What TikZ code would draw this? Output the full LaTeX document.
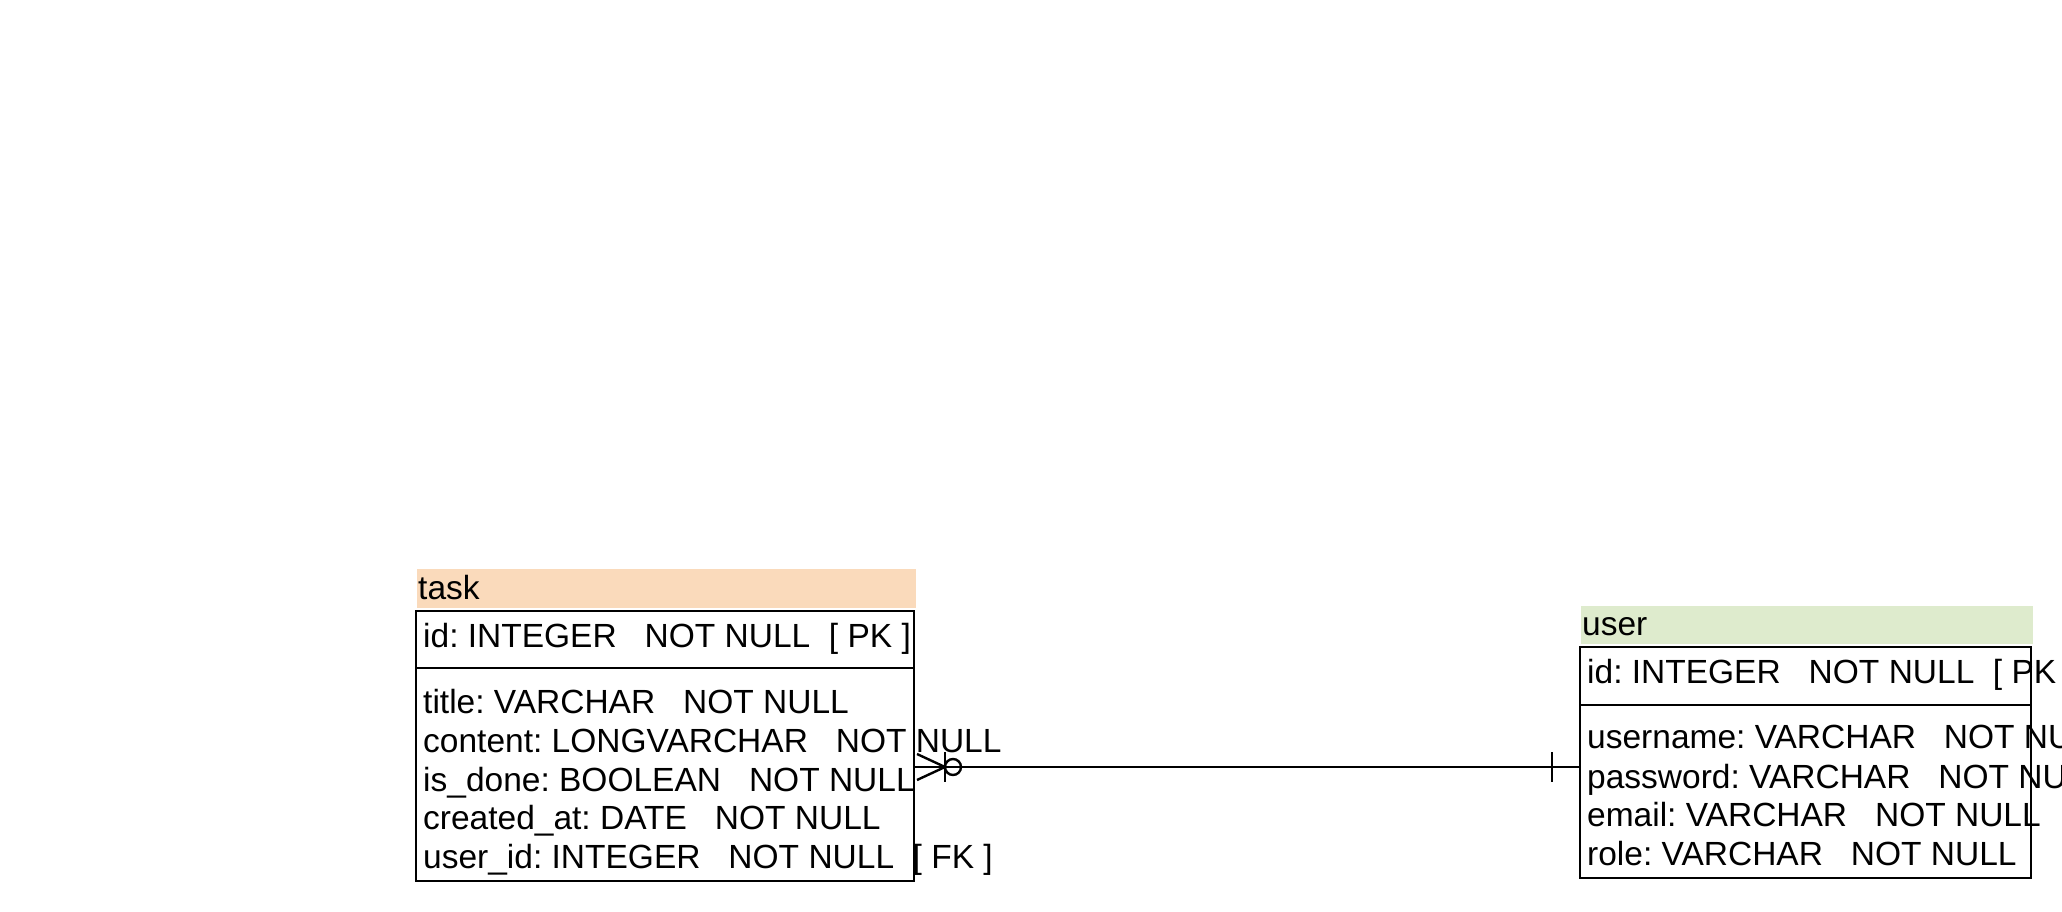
\documentclass[tikz,border=0pt]{standalone}
\usepackage{fontspec}
\setmainfont{Liberation Sans}
\usetikzlibrary{calc}
\definecolor{pesca}{RGB}{250,218,187}
\definecolor{verdino}{RGB}{222,235,205}
\tikzset{
  testata/.style={anchor=north west, inner sep=0pt},
  scatola/.style={draw, line width=2.8pt, anchor=north west, inner sep=0pt, outer sep=0pt},
  campo/.style={anchor=base west, inner sep=0pt, font=\fontsize{33.5}{40}\selectfont\frenchspacing},
  legame/.style={line width=2.4pt}
}
\begin{document}
\begin{tikzpicture}[x=1pt,y=-1pt]
    \useasboundingbox (0,0) rectangle (2062,912);

    % Tabella task
    \node[testata, fill=pesca, minimum width=499pt, minimum height=39pt] (taskhead) at (417,569) {};
    \node[campo] (tasktitle) at (418,599) {task};
    \node[scatola, minimum width=498pt, minimum height=57pt] (taskpk) at (416,611) {};
    \node[scatola, minimum width=498pt, minimum height=213pt] (taskattr) at (taskpk.south west) {};
    \node[campo] (tid) at (423,647) {id: INTEGER~~~NOT NULL~~[ PK ]};
    \node[campo] (ttitle) at (423,713) {title: VARCHAR~~~NOT NULL};
    \node[campo] (tcontent) at (423,752) {content: LONGVARCHAR~~~NOT NULL};
    \node[campo] (tdone) at (423,791) {is\_done: BOOLEAN~~~NOT NULL};
    \node[campo] (tcreated) at (423,829) {created\_at: DATE~~~NOT NULL};
    \node[campo] (tuser) at (423,868) {user\_id: INTEGER~~~NOT NULL~~[ FK ]};

    % Tabella user
    \node[testata, fill=verdino, minimum width=452pt, minimum height=38pt] (userhead) at (1581,606) {};
    \node[campo] (usertitle) at (1582,635) {user};
    \node[scatola, minimum width=451pt, minimum height=58pt] (userpk) at (1580,647) {};
    \node[scatola, minimum width=451pt, minimum height=173pt] (userattr) at (userpk.south west) {};
    \node[campo] (uid) at (1587,683) {id: INTEGER~~~NOT NULL~~[ PK ]};
    \node[campo] (uname) at (1587,748) {username: VARCHAR~~~NOT NULL};
    \node[campo] (upass) at (1587,788) {password: VARCHAR~~~NOT NULL};
    \node[campo] (umail) at (1587,826) {email: VARCHAR~~~NOT NULL};
    \node[campo] (urole) at (1587,865) {role: VARCHAR~~~NOT NULL};

    % Relazione task -- user (molti a uno)
    \coordinate (molti) at (taskattr.east |- 0,767);
    \coordinate (uno) at (userattr.west |- 0,767);
    \draw[legame] (molti) -- (uno);
    \draw[legame] ($(molti)+(3,-13)$) -- ($(molti)+(31,0)$) -- ($(molti)+(3,13)$); % zampa di gallina
    \draw[legame] ($(molti)+(31,-15)$) -- ($(molti)+(31,15)$);
    \draw[legame] ($(molti)+(39,0)$) circle[radius=8pt];
    \draw[legame] ($(uno)+(-28,-15)$) -- ($(uno)+(-28,15)$);

\end{tikzpicture}
\end{document}
